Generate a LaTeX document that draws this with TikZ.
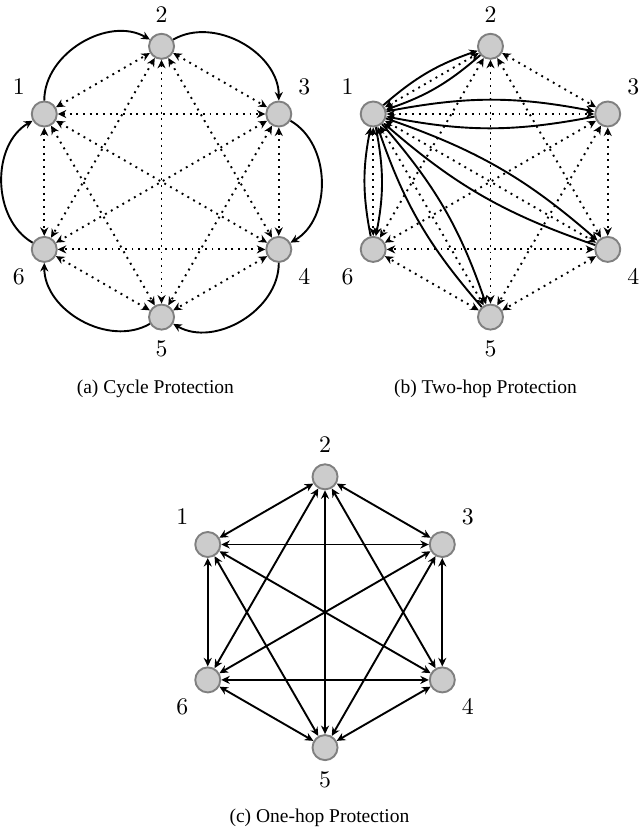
\documentclass[tikz,border=0pt]{standalone}
\usepackage{fontspec}
\usetikzlibrary{arrows.meta}
\newfontfamily\capfont{Liberation Serif}

\begin{document}
\begin{tikzpicture}[>={Stealth[length=3.6pt,width=3.4pt]},
  vertex/.style={circle,fill=gray!40,draw=gray,thick,minimum size=0.37cm,inner sep=0pt},
  dotlink/.style={<->,thick,dotted},
  solidlink/.style={thick},
  caption/.style={font=\capfont\fontsize{8.2}{10}\selectfont},
  label distance=1pt]
\useasboundingbox (0,0) rectangle (9.424,-12.275);

% three hexagons of nodes
\foreach \p/\cx/\cy in {a/2.386/-2.684, b/7.245/-2.684, c/4.801/-9.043} {
  \begin{scope}[shift={(\cx,\cy)}]
  \foreach \i/\ang/\lab in {1/150/135,2/90/90,3/30/45,4/-30/-45,5/-90/-90,6/-150/-135}
    \node[vertex,label=\lab:$\i$] (\p\i) at (\ang:2) {};
  \end{scope}
}

% full mesh
\foreach \p in {a,b}
  \foreach \i/\j in {1/2,1/3,1/4,1/5,1/6,2/3,2/4,2/5,2/6,3/4,3/5,3/6,4/5,4/6,5/6}
    \draw[dotlink] (\p\i) -- (\p\j);
\foreach \i/\j in {1/2,1/3,1/4,1/5,1/6,2/3,2/4,2/5,2/6,3/4,3/5,3/6,4/5,4/6,5/6}
  \draw[solidlink,<->] (c\i) -- (c\j);

% cycle
\foreach \i/\j in {1/2,2/3,3/4,4/5,5/6,6/1}
  \draw[solidlink,->] (a\i) to[bend left=60] (a\j);

% two-hop
\foreach \k in {2,...,6} {
  \draw[solidlink,->] (b1) to[bend left=11] (b\k);
  \draw[solidlink,->] (b\k) to[bend left=11] (b1);
}

\node[caption] (capa) at (2.295,-5.746) {(a) Cycle Protection};
\node[caption] (capb) at (7.171,-5.746) {(b) Two-hop Protection};
\node[caption] (capc) at (4.719,-12.087) {(c) One-hop Protection};

\end{tikzpicture}
\end{document}
